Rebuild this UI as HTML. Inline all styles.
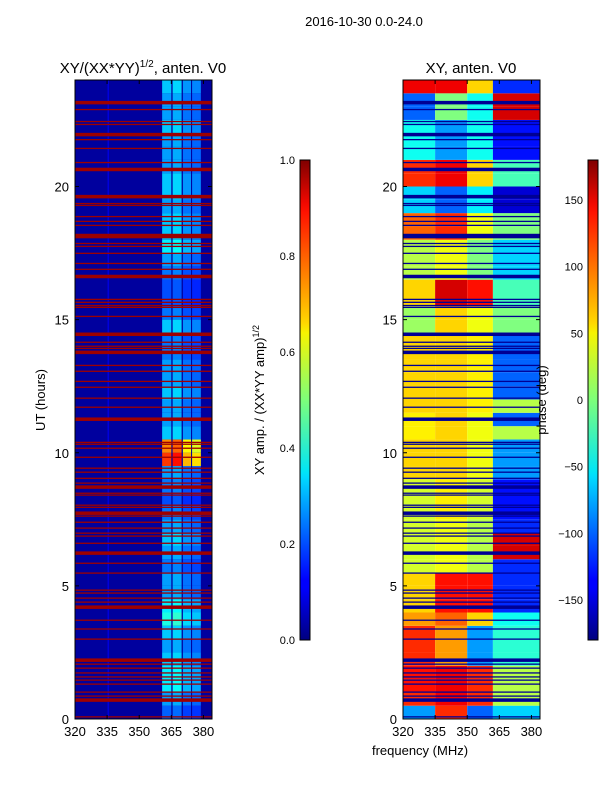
<!DOCTYPE html>
<html><head><meta charset="utf-8"><style>
html,body{margin:0;padding:0;background:#fff;}
svg{display:block;font-family:"Liberation Sans",sans-serif;}
</style></head><body>
<svg id="fig" width="600" height="800" viewBox="0 0 600 800">
<defs>
<linearGradient id="jetg" x1="0" y1="1" x2="0" y2="0">
<stop offset="0" stop-color="#00007f"/><stop offset="0.11" stop-color="#0000ff"/><stop offset="0.125" stop-color="#0000ff"/>
<stop offset="0.34" stop-color="#00dbff"/><stop offset="0.35" stop-color="#00e5f7"/><stop offset="0.5" stop-color="#7dff7a"/>
<stop offset="0.64" stop-color="#f7f400"/><stop offset="0.66" stop-color="#ffd800"/><stop offset="0.89" stop-color="#ff1300"/>
<stop offset="0.91" stop-color="#f10800"/><stop offset="1" stop-color="#7f0000"/>
</linearGradient>
<clipPath id="clipL"><rect x="75" y="80" width="137" height="639"/></clipPath>
<clipPath id="clipR"><rect x="403" y="80" width="137" height="639"/></clipPath>
</defs>
<text x="364" y="26" font-size="13" text-anchor="middle">2016-10-30 0.0-24.0</text>
<text x="143" y="73" font-size="15" text-anchor="middle">XY/(XX*YY)<tspan font-size="10" dy="-6">1/2</tspan><tspan dy="6">, anten. V0</tspan></text>
<text x="471" y="73" font-size="15" text-anchor="middle">XY, anten. V0</text>
<g id="left" clip-path="url(#clipL)"></g>
<g id="right" clip-path="url(#clipR)"></g>
<g id="axes"></g>
<text transform="translate(45,400) rotate(-90)" font-size="13" text-anchor="middle">UT (hours)</text>
<text x="420" y="755" font-size="13" text-anchor="middle">frequency (MHz)</text>
<rect x="300" y="160" width="10" height="480" fill="url(#jetg)" stroke="#000" stroke-width="1"/>
<rect x="588" y="160" width="10" height="480" fill="url(#jetg)" stroke="#000" stroke-width="1"/>
<text transform="translate(264,400) rotate(-90)" font-size="13" text-anchor="middle">XY amp. / (XX*YY amp)<tspan font-size="9" dy="-5">1/2</tspan></text>
<text transform="translate(546,400) rotate(-90)" font-size="13" text-anchor="middle">phase (deg)</text>
</svg>
<script>
// ---- data ----
const yTicks = [0, 5, 10, 15, 20];
const xTicks = [320, 335, 350, 365, 380];
const ampTicks = [0.0, 0.2, 0.4, 0.6, 0.8, 1.0];
const phaseTicks = [-150, -100, -50, 0, 50, 100, 150];
const flagHours = [23.15,22.89,22.44,22.33,21.95,21.76,21.43,20.90,20.64,19.62,19.36,19.29,18.87,18.69,18.54,18.20,18.12,17.86,17.75,17.49,17.11,16.89,16.62,15.76,15.65,15.53,15.46,15.12,14.45,14.15,14.00,13.92,13.77,13.28,13.06,12.68,12.46,12.05,11.71,11.26,10.39,10.32,10.17,9.83,9.42,9.27,9.04,8.86,8.71,8.48,8.41,8.03,7.95,7.73,7.62,7.39,7.17,6.98,6.87,6.60,6.23,5.85,5.48,4.84,4.73,4.54,4.39,4.20,3.71,3.38,3.00,2.21,2.06,1.91,1.73,1.58,1.46,1.31,1.01,0.86,0.71,0.08];
const flagThick = [23.15,21.95,20.64,19.62,18.12,16.62,14.45,13.77,11.26,8.71,7.73,6.23,4.20,2.21,0.71];
const bandRows = [0.22,0.28,0.36,0.36,0.32,0.28,0.32,0.4,0.36,0.28,0.28,0.24,0.28,0.32,0.28,0.24,0.2,0.24,0.28,0.82,0.74,0.32,0.28,0.28,0.32,0.28,0.28,0.24,0.24,0.32,0.24,0.2,0.2,0.24,0.28,0.36,0.32,0.32,0.28,0.32,0.32,0.28,0.28,0.28,0.32,0.28,0.28,0.32];
const stripeMHz = [[360.7,365.0],[365.6,369.8],[370.4,374.2],[374.7,378.8]];
const stripeGain = [1.0,1.05,0.85,0.8];
const ampBase = 0.03;
const phaseGroups = [[320,335],[335,350],[350,362],[362,384]];
const phaseA = [-80,120,130,130,120,120,120,80,60,60,60,30,30,30,30,30,30,30,60,60,60,50,50,60,60,60,60,60,60,10,10,60,60,20,20,20,100,100,-60,-60,120,120,-40,-40,-40,-100,-100,140];
const phaseB = [120,140,140,140,80,80,80,100,130,130,130,40,40,40,40,50,50,50,60,60,60,60,60,60,60,60,60,60,60,60,60,150,150,40,40,40,120,120,-100,-100,140,140,-80,-80,-80,0,0,140];
const phaseC = [-100,120,120,120,-80,-80,-80,60,130,130,130,20,20,20,20,30,30,30,40,40,40,40,40,50,50,50,50,50,50,40,40,130,130,0,0,0,40,40,-50,-50,60,60,-40,-40,-40,-40,-40,60];
const phaseD = [-60,20,20,20,-30,-30,-30,-40,-120,-120,-120,-120,150,150,-120,-130,-130,-130,-80,-80,-80,20,-100,20,-100,-100,-100,-100,-100,0,0,-20,-20,-60,-60,-60,0,0,-150,-150,-20,-20,-130,-130,-130,150,150,-120];

// ---- helpers ----
const NS = "http://www.w3.org/2000/svg";
const L = {x0:75, x1:212}, R = {x0:403, x1:540}, Y = {y0:719, y1:80};
function fx(p, f){ return p.x0 + (f-320)/(384-320)*(p.x1-p.x0); }
function fy(h){ return Y.y0 + h/24*(Y.y1-Y.y0); }
function jet(v){
  v = Math.max(0, Math.min(1, v));
  const r = Math.max(0, Math.min(1, 1.5 - Math.abs(4*v-3)));
  const g = Math.max(0, Math.min(1, 1.5 - Math.abs(4*v-2)));
  const b = Math.max(0, Math.min(1, 1.5 - Math.abs(4*v-1)));
  return "rgb("+Math.round(r*255)+","+Math.round(g*255)+","+Math.round(b*255)+")";
}
function rect(parent, x, y, w, h, fill){
  const r = document.createElementNS(NS, "rect");
  r.setAttribute("x", x); r.setAttribute("y", y); r.setAttribute("width", w); r.setAttribute("height", h);
  r.setAttribute("fill", fill);
  parent.appendChild(r);
  return r;
}
function line(parent, x1, y1, x2, y2, c, w){
  const l = document.createElementNS(NS, "line");
  l.setAttribute("x1", x1); l.setAttribute("y1", y1); l.setAttribute("x2", x2); l.setAttribute("y2", y2);
  l.setAttribute("stroke", c); l.setAttribute("stroke-width", w || 1);
  parent.appendChild(l);
  return l;
}
function text(parent, x, y, s, anchor, size){
  const t = document.createElementNS(NS, "text");
  t.setAttribute("x", x); t.setAttribute("y", y); t.setAttribute("text-anchor", anchor);
  t.setAttribute("font-size", size || 13);
  t.textContent = s;
  parent.appendChild(t);
  return t;
}

// ---- left heatmap ----
const gl = document.getElementById("left");
const bg = rect(gl, L.x0, Y.y1, L.x1-L.x0, Y.y0-Y.y1, jet(ampBase));


const vl = line(gl, fx(L,335.5), Y.y1, fx(L,335.5), Y.y0, jet(0.12), 1);


bandRows.forEach((v, i) => {
  stripeMHz.forEach((s, j) => {
    const ya = fy((i+1)*0.5), yb = fy(i*0.5);
    const r = rect(gl, fx(L,s[0]), ya, fx(L,s[1])-fx(L,s[0]), yb-ya, jet(v*stripeGain[j]));
    
    
  });
});
flagHours.forEach(h => {
  const th = flagThick.includes(h) ? 3.5 : 1.3;
  const r = rect(gl, L.x0, fy(h)-th/2, L.x1-L.x0, th, jet(0.97));
  
  
});

// ---- right heatmap ----
const gr = document.getElementById("right");
const phaseSeries = [phaseA, phaseB, phaseC, phaseD];
phaseSeries.forEach((ser, j) => {
  ser.forEach((p, i) => {
    const g = phaseGroups[j];
    const ya = fy((i+1)*0.5), yb = fy(i*0.5);
    const r = rect(gr, fx(R,g[0]), ya, fx(R,g[1])-fx(R,g[0]), yb-ya, jet((p+180)/360));
    
    
  });
});
flagHours.forEach(h => {
  const th = flagThick.includes(h) ? 3.5 : 1.3;
  const r = rect(gr, R.x0, fy(h)-th/2, R.x1-R.x0, th, jet(0.02));
  
  
});

// ---- axes ----
const ga = document.getElementById("axes");
[L, R].forEach((p, k) => {
  const fr = rect(ga, p.x0, Y.y1, p.x1-p.x0, Y.y0-Y.y1, "none");
  fr.setAttribute("stroke", "#000");
  
  
  yTicks.forEach(t => {
    const y = fy(t);
    line(ga, p.x0, y, p.x0+4, y, "#000");
    line(ga, p.x1, y, p.x1-4, y, "#000");
    const lab = text(ga, p.x0-6, y+5, String(t), "end");
    
    
  });
  xTicks.forEach(t => {
    const x = fx(p, t);
    line(ga, x, Y.y0, x, Y.y0-4, "#000");
    line(ga, x, Y.y1, x, Y.y1+4, "#000");
    const lab = text(ga, x, Y.y0+17, String(t), "middle");
    
    
  });
});
ampTicks.forEach(t => {
  const y = 640 - t*480;
  line(ga, 300, y, 310, y, "#000");
  const lab = text(ga, 295, y+4, t.toFixed(1), "end", 11);
  
  
});
phaseTicks.forEach(t => {
  const y = 400 - t*480/360;
  line(ga, 588, y, 598, y, "#000");
  const lab = text(ga, 583, y+4, (t < 0 ? "\u2212" + (-t) : String(t)), "end", 11);
  
  
});
</script>
</body></html>
